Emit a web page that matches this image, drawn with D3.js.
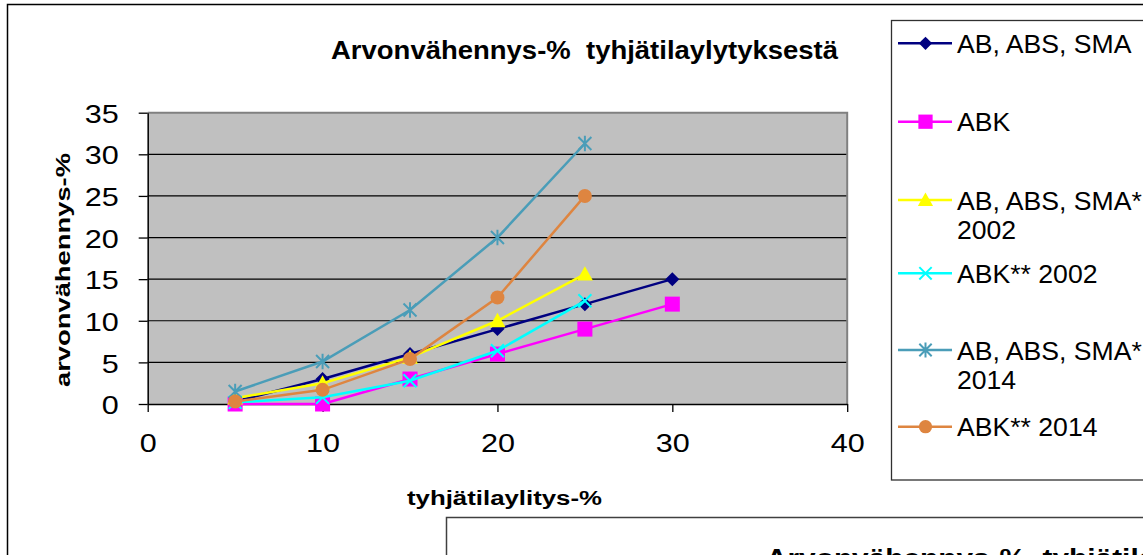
<!DOCTYPE html>
<html><head><meta charset="utf-8">
<script src="https://cdn.jsdelivr.net/npm/d3@7"></script>
<style>html,body{margin:0;padding:0;background:#fff;overflow:hidden}svg{display:block}text{font-family:"Liberation Sans",Arial,sans-serif}</style>
</head><body>
<script>
const titleText = "Arvonvähennys-%  tyhjätilaylytyksestä";
const xTitle = "tyhjätilaylitys-%";
const yTitle = "arvonvähennys-%";
const xTicks = [0, 10, 20, 30, 40];
const yTicks = [0, 5, 10, 15, 20, 25, 30, 35];
const xVals = [5, 10, 15, 20, 25, 30];
const sAB = [0.3, 3, 6, 9, 12, 15];
const sABK = [0, 0, 3, 6, 9, 12];
const sAB2002 = [0.7, 2.5, 5.6, 10, 15.6];
const sABK2002 = [0.2, 0.8, 2.8, 6.4, 12.4];
const sAB2014 = [1.5, 5.1, 11.3, 20, 31.3];
const sABK2014 = [0.3, 1.7, 5.4, 12.8, 25];
const seriesNames = [["AB, ABS, SMA"], ["ABK"], ["AB, ABS, SMA*", "2002"], ["ABK** 2002"], ["AB, ABS, SMA*", "2014"], ["ABK** 2014"]];
const seriesColors = ["#000080", "#FF00FF", "#FFFF00", "#00FFFF", "#4A9DB8", "#DE8540"];
const seriesMarkers = ["diamond", "square", "triangle", "x", "star", "circle"];
const seriesData = [sAB, sABK, sAB2002, sABK2002, sAB2014, sABK2014];

const W = 1143, H = 555;
const svg = d3.select("body").append("svg").attr("width", W).attr("height", H);

// outer frame
svg.append("rect").attr("x", 7.5).attr("y", 4.5).attr("width", 1200).attr("height", 600)
  .attr("fill", "#fff").attr("stroke", "#000").attr("stroke-width", 1.5);

const L = 147.7, R = 847.2, T = 112.7, B = 404;
const x = d3.scaleLinear().domain([0, 40]).range([L, R]);
const y = d3.scaleLinear().domain([0, 35]).range([B, T]);

// plot area
svg.append("rect").attr("x", L).attr("y", T).attr("width", R - L).attr("height", B - T).attr("fill", "#C0C0C0");
svg.append("g").selectAll("line").data(yTicks.filter(d => d > 0 && d < 35)).join("line")
  .attr("x1", L).attr("x2", R).attr("y1", d => y(d)).attr("y2", d => y(d))
  .attr("stroke", "#000").attr("stroke-width", 1.2);
svg.append("path").attr("d", `M${L},${T}H${R}V${B}`).attr("fill", "none").attr("stroke", "#808080").attr("stroke-width", 2);

// axes
const gy = svg.append("g").attr("transform", `translate(${L},0)`)
  .call(d3.axisLeft(y).tickValues(yTicks).tickSize(9).tickSizeOuter(0).tickPadding(20).tickFormat(d3.format("d")));
const gx = svg.append("g").attr("transform", `translate(0,${B})`)
  .call(d3.axisBottom(x).tickValues(xTicks).tickSize(8).tickSizeOuter(0).tickFormat(d3.format("d")));
[gy, gx].forEach(g => {
  g.select(".domain").attr("stroke", "#000").attr("stroke-width", 1.5);
  g.selectAll(".tick line").attr("stroke", "#000").attr("stroke-width", 1.3);
  g.selectAll(".tick text").attr("font-size", 26).attr("fill", "#000")
    .attr("font-family", '"Liberation Sans",Arial,sans-serif')
    .attr("textLength", d => String(d).length * 17).attr("lengthAdjust", "spacingAndGlyphs");
});
gy.selectAll(".tick text").attr("dy", "0.37em");
gx.selectAll(".tick text").attr("y", 48).attr("dy", 0);

function marker(g, type, cx, cy, color, s) {
  if (type === "diamond") {
    g.append("path").attr("d", `M${cx},${cy - s}L${cx + s},${cy}L${cx},${cy + s}L${cx - s},${cy}Z`).attr("fill", color);
  } else if (type === "square") {
    g.append("rect").attr("x", cx - s).attr("y", cy - s).attr("width", 2 * s).attr("height", 2 * s).attr("fill", color);
  } else if (type === "triangle") {
    g.append("path").attr("d", `M${cx},${cy - s}L${cx + s},${cy + s * 0.8}L${cx - s},${cy + s * 0.8}Z`).attr("fill", color);
  } else if (type === "circle") {
    g.append("circle").attr("cx", cx).attr("cy", cy).attr("r", s).attr("fill", color);
  } else if (type === "x") {
    g.append("path").attr("d", `M${cx - s},${cy - s}L${cx + s},${cy + s}M${cx - s},${cy + s}L${cx + s},${cy - s}`)
      .attr("stroke", color).attr("stroke-width", 2).attr("fill", "none");
  } else if (type === "star") {
    g.append("path").attr("d", `M${cx - s},${cy - s}L${cx + s},${cy + s}M${cx - s},${cy + s}L${cx + s},${cy - s}M${cx},${cy - s * 1.2}V${cy + s * 1.2}`)
      .attr("stroke", color).attr("stroke-width", 2).attr("fill", "none");
  }
}
const markerSize = {diamond: 7, square: 7.5, triangle: 8, circle: 7, x: 6.5, star: 6.5};

const line = d3.line().x(d => x(d[0])).y(d => y(d[1]));
seriesData.forEach((vals, i) => {
  const pts = vals.map((v, j) => [xVals[j], v]);
  const g = svg.append("g");
  g.append("path").attr("d", line(pts)).attr("fill", "none").attr("stroke", seriesColors[i]).attr("stroke-width", 2.5);
  pts.forEach(p => marker(g, seriesMarkers[i], x(p[0]), y(p[1]), seriesColors[i], markerSize[seriesMarkers[i]]));
});

// titles
svg.append("text").attr("x", 331).attr("y", 58.5).attr("font-size", 26).attr("font-weight", "bold")
  .attr("textLength", 507).attr("lengthAdjust", "spacingAndGlyphs").style("white-space", "pre").text(titleText);
svg.append("text").attr("x", 407).attr("y", 504.5).attr("font-size", 20).attr("font-weight", "bold")
  .attr("textLength", 195).attr("lengthAdjust", "spacingAndGlyphs").text(xTitle);
svg.append("text").attr("transform", "translate(69.5,387) rotate(-90)").attr("font-size", 20).attr("font-weight", "bold")
  .attr("textLength", 234).attr("lengthAdjust", "spacingAndGlyphs").text(yTitle);

// legend
svg.append("rect").attr("x", 891.5).attr("y", 20.5).attr("width", 400).attr("height", 459.5)
  .attr("fill", "#fff").attr("stroke", "#303030").attr("stroke-width", 1.3);
const legY = [43.3, 121.7, 200, 273.3, 350, 426.7];
seriesNames.forEach((lines, i) => {
  const g = svg.append("g");
  const ly = legY[i];
  g.append("line").attr("x1", 898).attr("x2", 952).attr("y1", ly).attr("y2", ly).attr("stroke", seriesColors[i]).attr("stroke-width", 2.5);
  marker(g, seriesMarkers[i], 925.5, ly, seriesColors[i], markerSize[seriesMarkers[i]] * 0.95);
  lines.forEach((t, k) => {
    g.append("text").attr("x", 957).attr("y", ly + 9.5 + k * 29).attr("font-size", 26.6).attr("fill", "#000").text(t);
  });
});

// second chart frame (partially visible)
svg.append("rect").attr("x", 446.5).attr("y", 517.5).attr("width", 800).attr("height", 200)
  .attr("fill", "#fff").attr("stroke", "#404040").attr("stroke-width", 1.5);
svg.append("text").attr("x", 766).attr("y", 567).attr("font-size", 26).attr("font-weight", "bold")
  .attr("textLength", 550).attr("lengthAdjust", "spacingAndGlyphs").style("white-space", "pre").text(titleText);
</script>
</body></html>
